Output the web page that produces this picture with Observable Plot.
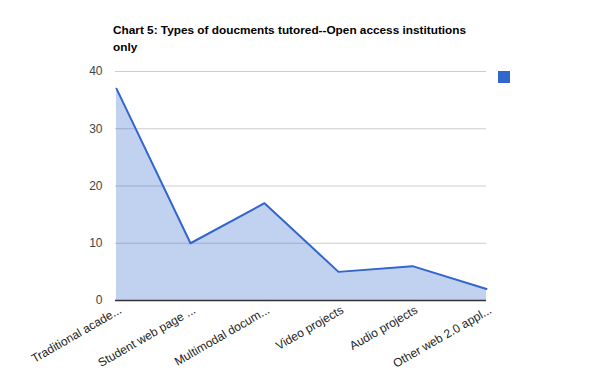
<!DOCTYPE html>
<html>
<head>
<meta charset="utf-8">
<script src="https://cdn.jsdelivr.net/npm/d3@7"></script>
<script src="https://cdn.jsdelivr.net/npm/@observablehq/plot@0.6"></script>
<style>
  body { margin: 0; background: #fff; }
  #wrap { position: relative; width: 600px; height: 371px; font-family: "Liberation Sans", Arial, sans-serif; }
  #title { position: absolute; left: 113px; top: 22px; width: 370px; font-weight: bold; font-size: 11.8px; line-height: 17px; color: #000; }
  #legend { position: absolute; left: 498px; top: 71px; width: 12px; height: 12px; background: #3366cc; }
</style>
</head>
<body>
<div id="wrap">
  <div id="chart"></div>
  <div id="title">Chart 5: Types of doucments tutored--Open access institutions only</div>
  <div id="legend"></div>
</div>
<script>
const categories = ["Traditional acade...", "Student web page ...", "Multimodal docum...", "Video projects", "Audio projects", "Other web 2.0 appl..."];
const values = [37, 10, 17, 5, 6, 2];
const yTicks = [0, 10, 20, 30, 40];

const data = categories.map((c, i) => ({category: c, value: values[i]}));

const chart = Plot.plot({
  width: 600,
  height: 371,
  marginLeft: 115,
  marginRight: 114,
  marginTop: 71,
  marginBottom: 71,
  style: {fontFamily: "Liberation Sans, Arial, sans-serif", fontSize: "12px", background: "#fff"},
  x: {type: "point", domain: categories, padding: 0},
  y: {domain: [0, 40], ticks: yTicks},
  marks: [
    Plot.gridY(yTicks, {stroke: "#cccccc", strokeOpacity: 1}),
    Plot.areaY(data, {x: "category", y: "value", fill: "#3366cc", fillOpacity: 0.3}),
    Plot.lineY(data, {x: "category", y: "value", stroke: "#3366cc", strokeWidth: 2}),
    Plot.ruleY([0], {stroke: "#333333", strokeWidth: 1.5}),
    Plot.axisY(yTicks, {tickSize: 0, tickPadding: 13, fill: "#444444", label: null, fontSize: 12}),
    Plot.axisX({tickSize: 0, tickRotate: -30, fill: "#222222", label: null, fontSize: 12, dx: 4, dy: -4})
  ]
});
document.getElementById("chart").appendChild(chart);
</script>
</body>
</html>
